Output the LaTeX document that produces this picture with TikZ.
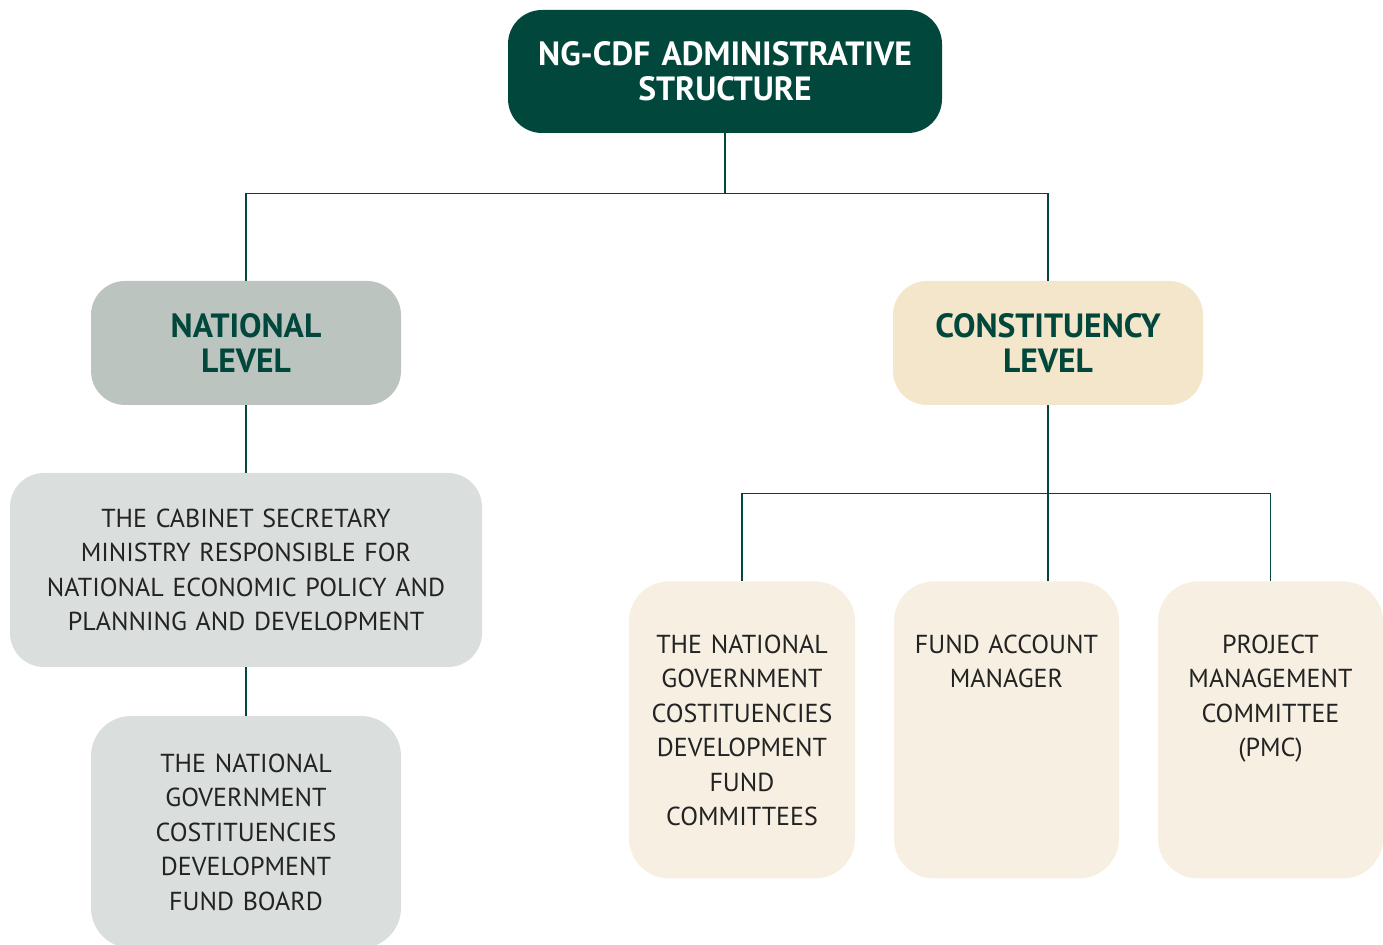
\documentclass[tikz,border=0pt]{standalone}
\usepackage{fontspec}
\setmainfont{PT Sans}
\usetikzlibrary{positioning, calc}
\definecolor{ngdark}{RGB}{1, 71, 59}
\definecolor{ngsage}{RGB}{188, 196, 192}
\definecolor{nggrey}{RGB}{218, 222, 221}
\definecolor{ngsand}{RGB}{244, 230, 203}
\definecolor{ngcream}{RGB}{246, 239, 226}
\definecolor{ngtext}{RGB}{35, 35, 35}

\begin{document}
\begin{tikzpicture}[x=0.5pt, y=-0.5pt,
    box/.style={rectangle, rounded corners=17pt, inner sep=0pt, align=center},
    headbox/.style={box, font=\bfseries\fontsize{16.8}{17.5}\selectfont},
    bodybox/.style={box, text=ngtext, font=\fontsize{13}{17.25}\selectfont},
    link/.style={draw=ngdark, line width=0.6pt}]
    \useasboundingbox (0,0) rectangle (1383,945);

    % top of the structure
    \node[headbox, fill=ngdark, text=white, minimum width=217pt, minimum height=61.5pt, text width=210pt] (top) at (725,71.5) {NG-CDF ADMINISTRATIVE\\STRUCTURE};

    % the two levels
    \node[headbox, fill=ngsage, text=ngdark, minimum width=155pt, minimum height=62pt, text width=150pt] (natl) at (246,343) {NATIONAL\\LEVEL};
    \node[headbox, fill=ngsand, text=ngdark, minimum width=155pt, minimum height=62pt, text width=150pt] (const) at (1048,343) {CONSTITUENCY\\LEVEL};

    % national side
    \node[bodybox, fill=nggrey, minimum width=236pt, minimum height=97pt, text width=230pt] (cabinet) at (246,570) {THE CABINET SECRETARY\\MINISTRY RESPONSIBLE FOR\\NATIONAL ECONOMIC POLICY AND\\PLANNING AND DEVELOPMENT};
    \node[bodybox, fill=nggrey, rounded corners=20pt, minimum width=155pt, minimum height=116pt, text width=150pt] (board) at (246,832) {THE NATIONAL\\GOVERNMENT\\COSTITUENCIES\\DEVELOPMENT\\FUND BOARD};

    % constituency side
    \node[bodybox, fill=ngcream, rounded corners=20pt, anchor=north, text width=113pt, text height=36pt, text depth=112.5pt] (fund1) at (742,581) {THE NATIONAL\\GOVERNMENT\\COSTITUENCIES\\DEVELOPMENT\\FUND\\COMMITTEES};
    \node[bodybox, fill=ngcream, rounded corners=20pt, anchor=north, text width=112.5pt, text height=36pt, text depth=112.5pt] (fund2) at (1006.5,581) {FUND ACCOUNT\\MANAGER};
    \node[bodybox, fill=ngcream, rounded corners=20pt, anchor=north, text width=112.5pt, text height=36pt, text depth=112.5pt] (fund3) at (1270.5,581) {PROJECT\\MANAGEMENT\\COMMITTEE\\(PMC)};

    % connectors
    \draw[link] (top.south) -- ++(0,60) -| (natl.north);
    \draw[link] (top.south) -- ++(0,60) -| (const.north);
    \draw[link] (natl.south) -- (cabinet.north);
    \draw[link] (cabinet.south) -- (board.north);
    \draw[link] (const.south) -- ++(0,88) -| (fund1.north);
    \draw[link] (const.south) -- ++(0,88) -| (fund3.north);
    \draw[link] (const.south) -- (const.south |- fund2.north);
\end{tikzpicture}
\end{document}
